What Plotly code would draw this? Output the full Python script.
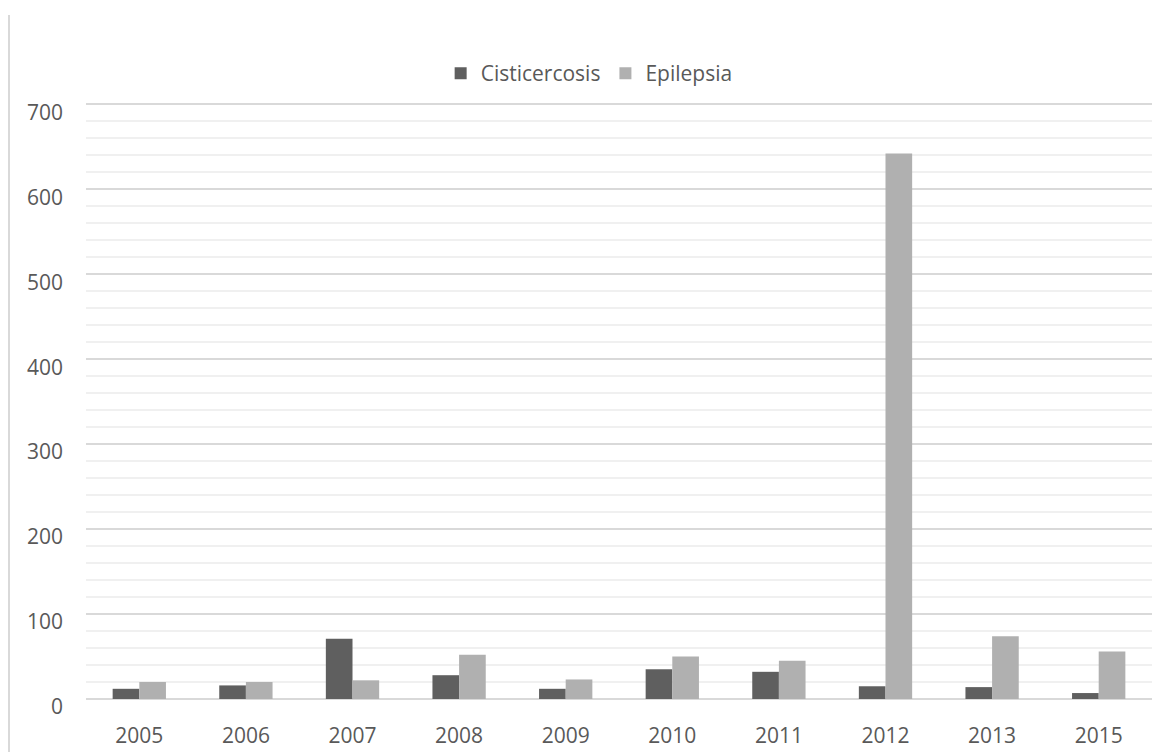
import plotly.graph_objects as go

years = ["2005", "2006", "2007", "2008", "2009", "2010", "2011", "2012", "2013", "2015"]
cisticercosis = [12, 16, 71, 28, 12, 35, 32, 15, 14, 7]
epilepsia = [20, 20, 22, 52, 23, 50, 45, 642, 74, 56]

dark = "#5f5f5f"
light = "#b0b0b0"
text_color = "#595959"
font_family = "Open Sans, Lato, sans-serif"

fig = go.Figure()
fig.add_trace(go.Bar(x=years, y=cisticercosis, name="Cisticercosis",
                     marker=dict(color=dark, line=dict(width=0))))
fig.add_trace(go.Bar(x=years, y=epilepsia, name="Epilepsia",
                     marker=dict(color=light, line=dict(width=0))))

fig.update_layout(
    width=1174, height=752,
    margin=dict(l=86, r=22, t=103, b=53),
    paper_bgcolor="white", plot_bgcolor="white",
    barmode="group", bargap=0.5, bargroupgap=0,
    font=dict(family=font_family, size=21, color=text_color),
    legend=dict(orientation="h", x=0.472, xanchor="center", y=1.015, yanchor="bottom",
                font=dict(size=21, color=text_color), itemwidth=30,
                bgcolor="rgba(0,0,0,0)"),
    xaxis=dict(type="category", showgrid=False, showline=False, ticks="", automargin=False,
               ticklabelstandoff=22, tickfont=dict(size=21, color=text_color)),
    yaxis=dict(range=[0, 701.5], dtick=100, showgrid=True, gridcolor="#d9d9d9", gridwidth=1.5,
               zeroline=True, zerolinecolor="#d9d9d9", zerolinewidth=1.5, automargin=False,
               showline=False, ticks="", ticklabelstandoff=22, ticklabelshift=8,
               tickfont=dict(size=21, color=text_color),
               minor=dict(dtick=20, showgrid=True, gridcolor="#f0f0f0", gridwidth=1.5)),
)

# Outer chart border on the left
fig.add_shape(type="line", xref="paper", yref="paper",
              x0=(9 - 86) / 1066, x1=(9 - 86) / 1066,
              y0=-53 / 596, y1=(699 - 15) / 596,
              line=dict(color="#d9d9d9", width=2), layer="below")

fig.write_html("out.html")
